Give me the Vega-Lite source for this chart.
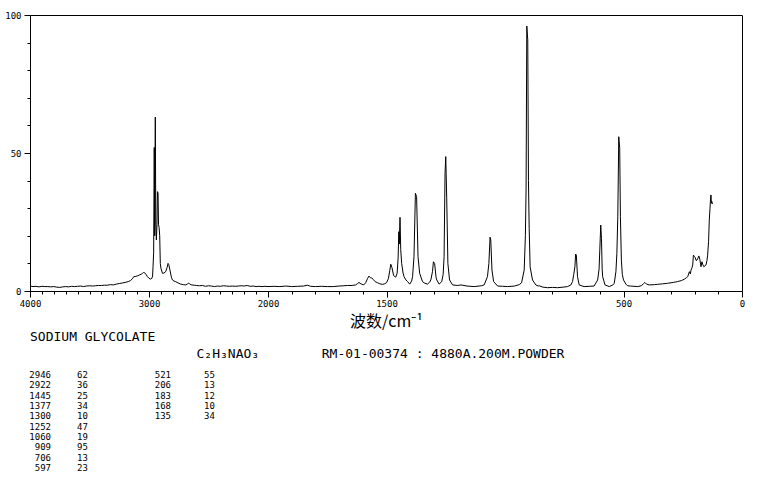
{
  "$schema": "https://vega.github.io/schema/vega-lite/v6.json",
  "autosize": {"type": "pad"},
  "padding": {"left": 4, "top": 10, "right": 0, "bottom": 0},
  "background": "white",
  "spacing": 84,
  "bounds": "flush",
  "datasets": {
    "spectrum": [
      {"wavenumber":4000,"intensity":1.8},{"wavenumber":3975,"intensity":1.6},{"wavenumber":3950,"intensity":1.7},{"wavenumber":3925,"intensity":1.5},{"wavenumber":3900,"intensity":1.7},{"wavenumber":3875,"intensity":1.6},{"wavenumber":3850,"intensity":1.6},{"wavenumber":3825,"intensity":1.5},{"wavenumber":3800,"intensity":1.6},{"wavenumber":3775,"intensity":1.4},{"wavenumber":3750,"intensity":1.3},{"wavenumber":3725,"intensity":1.5},{"wavenumber":3700,"intensity":1.6},{"wavenumber":3675,"intensity":1.5},{"wavenumber":3650,"intensity":1.7},{"wavenumber":3625,"intensity":1.6},{"wavenumber":3600,"intensity":1.7},{"wavenumber":3575,"intensity":1.8},{"wavenumber":3550,"intensity":1.6},{"wavenumber":3525,"intensity":1.8},{"wavenumber":3500,"intensity":1.9},{"wavenumber":3475,"intensity":1.8},{"wavenumber":3450,"intensity":1.9},{"wavenumber":3425,"intensity":2.0},{"wavenumber":3400,"intensity":2.0},{"wavenumber":3375,"intensity":2.1},{"wavenumber":3350,"intensity":2.1},{"wavenumber":3325,"intensity":2.3},{"wavenumber":3300,"intensity":2.2},{"wavenumber":3275,"intensity":2.5},{"wavenumber":3250,"intensity":2.7},{"wavenumber":3225,"intensity":2.9},{"wavenumber":3200,"intensity":3.1},{"wavenumber":3175,"intensity":3.4},{"wavenumber":3155,"intensity":3.8},{"wavenumber":3140,"intensity":4.4},{"wavenumber":3128,"intensity":5.2},{"wavenumber":3110,"intensity":5.3},{"wavenumber":3097,"intensity":5.5},{"wavenumber":3080,"intensity":5.8},{"wavenumber":3065,"intensity":6.1},{"wavenumber":3055,"intensity":6.4},{"wavenumber":3045,"intensity":6.7},{"wavenumber":3036,"intensity":6.6},{"wavenumber":3025,"intensity":6.0},{"wavenumber":3013,"intensity":5.2},{"wavenumber":3000,"intensity":4.6},{"wavenumber":2986,"intensity":4.3},{"wavenumber":2976,"intensity":4.6},{"wavenumber":2970,"intensity":5.4},{"wavenumber":2966,"intensity":8.8},{"wavenumber":2961,"intensity":13.8},{"wavenumber":2956,"intensity":52},{"wavenumber":2952,"intensity":20},{"wavenumber":2947,"intensity":63},{"wavenumber":2943,"intensity":25},{"wavenumber":2938,"intensity":18.5},{"wavenumber":2933,"intensity":24},{"wavenumber":2929,"intensity":36},{"wavenumber":2924,"intensity":35.5},{"wavenumber":2920,"intensity":24},{"wavenumber":2915,"intensity":23},{"wavenumber":2910,"intensity":20},{"wavenumber":2905,"intensity":10},{"wavenumber":2900,"intensity":8.3},{"wavenumber":2887,"intensity":6.4},{"wavenumber":2875,"intensity":6.5},{"wavenumber":2860,"intensity":7.0},{"wavenumber":2848,"intensity":8.5},{"wavenumber":2840,"intensity":10},{"wavenumber":2834,"intensity":9.6},{"wavenumber":2824,"intensity":7.6},{"wavenumber":2812,"intensity":5.0},{"wavenumber":2803,"intensity":4.0},{"wavenumber":2790,"intensity":3.6},{"wavenumber":2776,"intensity":3.4},{"wavenumber":2755,"intensity":2.9},{"wavenumber":2734,"intensity":2.5},{"wavenumber":2712,"intensity":2.3},{"wavenumber":2692,"intensity":2.2},{"wavenumber":2675,"intensity":2.6},{"wavenumber":2666,"intensity":2.9},{"wavenumber":2655,"intensity":2.4},{"wavenumber":2640,"intensity":2.2},{"wavenumber":2620,"intensity":2.1},{"wavenumber":2600,"intensity":2.0},{"wavenumber":2575,"intensity":1.9},{"wavenumber":2550,"intensity":2.0},{"wavenumber":2525,"intensity":1.7},{"wavenumber":2500,"intensity":1.9},{"wavenumber":2475,"intensity":1.8},{"wavenumber":2450,"intensity":1.6},{"wavenumber":2425,"intensity":1.8},{"wavenumber":2400,"intensity":1.7},{"wavenumber":2375,"intensity":1.9},{"wavenumber":2350,"intensity":1.8},{"wavenumber":2325,"intensity":1.7},{"wavenumber":2300,"intensity":1.8},{"wavenumber":2275,"intensity":1.7},{"wavenumber":2250,"intensity":1.8},{"wavenumber":2225,"intensity":1.9},{"wavenumber":2200,"intensity":1.8},{"wavenumber":2175,"intensity":2.0},{"wavenumber":2150,"intensity":1.7},{"wavenumber":2125,"intensity":1.8},{"wavenumber":2100,"intensity":1.6},{"wavenumber":2075,"intensity":1.7},{"wavenumber":2050,"intensity":1.6},{"wavenumber":2025,"intensity":1.7},{"wavenumber":2000,"intensity":1.6},
      {"wavenumber":1975,"intensity":1.7},{"wavenumber":1950,"intensity":1.6},{"wavenumber":1925,"intensity":1.8},{"wavenumber":1900,"intensity":1.6},{"wavenumber":1875,"intensity":1.7},{"wavenumber":1850,"intensity":1.8},{"wavenumber":1834,"intensity":2.1},{"wavenumber":1820,"intensity":1.7},{"wavenumber":1800,"intensity":1.6},{"wavenumber":1775,"intensity":1.7},{"wavenumber":1750,"intensity":1.6},{"wavenumber":1725,"intensity":1.6},{"wavenumber":1700,"intensity":1.8},{"wavenumber":1680,"intensity":1.9},{"wavenumber":1665,"intensity":2.0},{"wavenumber":1645,"intensity":2.0},{"wavenumber":1630,"intensity":2.2},{"wavenumber":1622,"intensity":2.7},{"wavenumber":1616,"intensity":3.1},{"wavenumber":1608,"intensity":2.6},{"wavenumber":1596,"intensity":2.2},{"wavenumber":1588,"intensity":3.0},{"wavenumber":1580,"intensity":4.5},{"wavenumber":1574,"intensity":5.4},{"wavenumber":1568,"intensity":4.8},{"wavenumber":1562,"intensity":4.7},{"wavenumber":1556,"intensity":4.2},{"wavenumber":1548,"intensity":3.4},{"wavenumber":1538,"intensity":3.0},{"wavenumber":1528,"intensity":2.6},{"wavenumber":1517,"intensity":2.4},{"wavenumber":1508,"intensity":2.6},{"wavenumber":1500,"intensity":3.0},{"wavenumber":1492,"intensity":4.5},{"wavenumber":1486,"intensity":7.5},{"wavenumber":1482,"intensity":9.7},{"wavenumber":1477,"intensity":8.5},{"wavenumber":1470,"intensity":5.6},{"wavenumber":1461,"intensity":5.0},{"wavenumber":1455,"intensity":6.5},{"wavenumber":1451,"intensity":12},{"wavenumber":1448,"intensity":21.5},{"wavenumber":1446,"intensity":17},{"wavenumber":1443,"intensity":26.7},{"wavenumber":1440,"intensity":15},{"wavenumber":1436,"intensity":10},{"wavenumber":1430,"intensity":6.5},{"wavenumber":1426,"intensity":5.2},{"wavenumber":1418,"intensity":4.0},{"wavenumber":1411,"intensity":3.4},{"wavenumber":1402,"intensity":2.5},{"wavenumber":1394,"intensity":3.6},{"wavenumber":1390,"intensity":5.2},{"wavenumber":1384,"intensity":12.4},{"wavenumber":1378,"intensity":35.4},{"wavenumber":1373,"intensity":34.2},{"wavenumber":1367,"intensity":12.4},{"wavenumber":1360,"intensity":6.4},{"wavenumber":1348,"intensity":3.4},{"wavenumber":1338,"intensity":2.8},{"wavenumber":1327,"intensity":2.5},{"wavenumber":1318,"intensity":3.2},{"wavenumber":1313,"intensity":4.0},{"wavenumber":1306,"intensity":7.0},{"wavenumber":1302,"intensity":10.6},{"wavenumber":1297,"intensity":10.0},{"wavenumber":1291,"intensity":5.0},{"wavenumber":1288,"intensity":4.0},{"wavenumber":1278,"intensity":2.5},{"wavenumber":1267,"intensity":3.4},{"wavenumber":1261,"intensity":6.0},{"wavenumber":1257,"intensity":12.4},{"wavenumber":1253,"intensity":42.6},{"wavenumber":1250,"intensity":48.7},{"wavenumber":1246,"intensity":34},{"wavenumber":1241,"intensity":10},{"wavenumber":1234,"intensity":4.0},{"wavenumber":1221,"intensity":2.2},{"wavenumber":1200,"intensity":2.0},{"wavenumber":1186,"intensity":2.2},{"wavenumber":1160,"intensity":1.8},{"wavenumber":1130,"intensity":1.6},{"wavenumber":1100,"intensity":1.9},{"wavenumber":1088,"intensity":2.2},{"wavenumber":1074,"intensity":5.2},{"wavenumber":1068,"intensity":10},{"wavenumber":1063,"intensity":19.5},{"wavenumber":1060,"intensity":18.5},{"wavenumber":1055,"intensity":7.6},{"wavenumber":1048,"intensity":3.4},{"wavenumber":1031,"intensity":1.8},{"wavenumber":1010,"intensity":1.7},{"wavenumber":989,"intensity":1.6},{"wavenumber":960,"intensity":1.8},{"wavenumber":940,"intensity":2.3},{"wavenumber":930,"intensity":3.0},{"wavenumber":919,"intensity":7.6},{"wavenumber":914,"intensity":20},{"wavenumber":911,"intensity":37},{"wavenumber":908,"intensity":96},{"wavenumber":904,"intensity":91},{"wavenumber":901,"intensity":40},{"wavenumber":898,"intensity":22.7},{"wavenumber":894,"intensity":8.8},{"wavenumber":884,"intensity":4.0},{"wavenumber":870,"intensity":2.2},{"wavenumber":860,"intensity":1.8},{"wavenumber":856,"intensity":1.9},{"wavenumber":840,"intensity":1.4},{"wavenumber":820,"intensity":1.2},{"wavenumber":800,"intensity":1.3},{"wavenumber":778,"intensity":1.2},{"wavenumber":755,"intensity":1.4},{"wavenumber":736,"intensity":1.6},{"wavenumber":722,"intensity":2.2},{"wavenumber":715,"intensity":3.4},{"wavenumber":710,"intensity":6.0},{"wavenumber":705,"intensity":8.8},{"wavenumber":702,"intensity":13.4},{"wavenumber":699,"intensity":13.0},{"wavenumber":694,"intensity":5.2},{"wavenumber":687,"intensity":2.2},{"wavenumber":666,"intensity":1.6},{"wavenumber":645,"intensity":1.7},{"wavenumber":624,"intensity":1.8},{"wavenumber":609,"intensity":4.0},{"wavenumber":603,"intensity":8.0},{"wavenumber":600,"intensity":14.9},{"wavenumber":596,"intensity":23.9},{"wavenumber":593,"intensity":19.1},{"wavenumber":590,"intensity":8.0},{"wavenumber":588,"intensity":5.2},{"wavenumber":578,"intensity":2.2},{"wavenumber":560,"intensity":1.6},{"wavenumber":545,"intensity":2.2},{"wavenumber":539,"intensity":2.8},{"wavenumber":532,"intensity":7.0},{"wavenumber":528,"intensity":13.6},{"wavenumber":524,"intensity":26.9},{"wavenumber":520,"intensity":55.9},{"wavenumber":516,"intensity":51.7},{"wavenumber":513,"intensity":26.9},{"wavenumber":509,"intensity":11.2},{"wavenumber":505,"intensity":6.0},{"wavenumber":500,"intensity":4.0},{"wavenumber":490,"intensity":2.5},{"wavenumber":483,"intensity":1.9},{"wavenumber":470,"intensity":1.8},{"wavenumber":440,"intensity":1.6},{"wavenumber":425,"intensity":1.9},{"wavenumber":416,"intensity":2.6},{"wavenumber":410,"intensity":3.1},{"wavenumber":403,"intensity":2.5},{"wavenumber":392,"intensity":2.2},{"wavenumber":370,"intensity":2.3},{"wavenumber":357,"intensity":2.4},{"wavenumber":335,"intensity":2.6},{"wavenumber":314,"intensity":2.8},{"wavenumber":290,"intensity":3.1},{"wavenumber":272,"intensity":3.4},{"wavenumber":255,"intensity":3.8},{"wavenumber":243,"intensity":4.3},{"wavenumber":235,"intensity":4.8},{"wavenumber":229,"intensity":5.2},{"wavenumber":224,"intensity":6.5},{"wavenumber":222,"intensity":7.0},{"wavenumber":218,"intensity":6.2},{"wavenumber":215,"intensity":7.6},{"wavenumber":211,"intensity":8.4},{"wavenumber":208,"intensity":9.4},{"wavenumber":205,"intensity":13.0},{"wavenumber":201,"intensity":12.5},{"wavenumber":198,"intensity":12.2},{"wavenumber":193,"intensity":11.0},{"wavenumber":190,"intensity":11.2},{"wavenumber":185,"intensity":12.0},{"wavenumber":182,"intensity":12.7},{"wavenumber":178,"intensity":11.5},{"wavenumber":173,"intensity":8.8},{"wavenumber":169,"intensity":10.6},{"wavenumber":165,"intensity":9.5},{"wavenumber":161,"intensity":8.8},{"wavenumber":155,"intensity":9.2},{"wavenumber":152,"intensity":9.4},{"wavenumber":148,"intensity":11},{"wavenumber":145,"intensity":13},{"wavenumber":141,"intensity":18},{"wavenumber":138,"intensity":25.7},{"wavenumber":135,"intensity":30},{"wavenumber":133,"intensity":33},{"wavenumber":131,"intensity":34.8},{"wavenumber":129,"intensity":31.8},{"wavenumber":127,"intensity":32.4},{"wavenumber":125,"intensity":31.5}
    ],
    "peaks": [
      {"wavenumber":"2946","intensity":"62","block":0,"rank":0},
      {"wavenumber":"2922","intensity":"36","block":0,"rank":1},
      {"wavenumber":"1445","intensity":"25","block":0,"rank":2},
      {"wavenumber":"1377","intensity":"34","block":0,"rank":3},
      {"wavenumber":"1300","intensity":"10","block":0,"rank":4},
      {"wavenumber":"1252","intensity":"47","block":0,"rank":5},
      {"wavenumber":"1060","intensity":"19","block":0,"rank":6},
      {"wavenumber":"909","intensity":"95","block":0,"rank":7},
      {"wavenumber":"706","intensity":"13","block":0,"rank":8},
      {"wavenumber":"597","intensity":"23","block":0,"rank":9},
      {"wavenumber":"521","intensity":"55","block":1,"rank":0},
      {"wavenumber":"206","intensity":"13","block":1,"rank":1},
      {"wavenumber":"183","intensity":"12","block":1,"rank":2},
      {"wavenumber":"168","intensity":"10","block":1,"rank":3},
      {"wavenumber":"135","intensity":"34","block":1,"rank":4}
    ]
  },
  "vconcat": [
    {
      "width": 712,
      "height": 276,
      "data": {"name": "spectrum"},
      "layer": [
        {
          "mark": {"type": "line", "color": "black", "strokeWidth": 1, "interpolate": "linear"},
          "encoding": {
            "x": {
              "field": "wavenumber", "type": "quantitative",
              "scale": {"domain": [4000, 2000, 0], "range": [0, 238, 712], "nice": false, "zero": false},
              "axis": {
                "orient": "bottom", "values": [4000, 3000, 2000, 1500, 500, 0], "format": "d",
                "tickSize": 6, "labelPadding": 2, "labelFont": "DejaVu Sans Mono", "labelFontSize": 9,
                "labelFlush": false, "labelOverlap": false, "grid": false,
                "title": "波数/cm⁻¹", "titleFont": "Noto Sans CJK SC", "titleFontSize": 16,
                "titleFontWeight": "normal", "titlePadding": 5
              }
            },
            "y": {
              "field": "intensity", "type": "quantitative",
              "scale": {"domain": [0, 100], "nice": false},
              "axis": {
                "orient": "left", "values": [0, 50, 100], "format": "d",
                "tickSize": 6, "labelPadding": 3, "labelFont": "DejaVu Sans Mono", "labelFontSize": 9,
                "grid": false, "title": null
              }
            }
          }
        },
        {
          "mark": {"type": "line", "strokeOpacity": 0},
          "encoding": {
            "x": {
              "field": "wavenumber", "type": "quantitative",
              "axis": {
                "orient": "bottom",
                "values": [3900,3800,3700,3600,3500,3400,3300,3200,3100,2900,2800,2700,2600,2500,2400,2300,2200,2100,1900,1800,1700,1600,1400,1300,1200,1100,1000,900,800,700,600,400,300,200,100],
                "tickSize": 3, "labels": false, "domain": false, "grid": false, "title": null
              }
            },
            "y": {
              "field": "intensity", "type": "quantitative",
              "axis": {
                "orient": "left", "values": [10,20,30,40,60,70,80,90],
                "tickSize": 3, "labels": false, "domain": false, "grid": false, "title": null
              }
            }
          }
        }
      ],
      "resolve": {"axis": {"x": "independent", "y": "independent"}}
    },
    {
      "width": 712,
      "height": 93,
      "view": {"stroke": null},
      "data": {"name": "peaks"},
      "title": {
        "text": [
          "SODIUM GLYCOLATE",
          "\u2800\u00a0\u00a0\u00a0\u00a0\u00a0\u00a0\u00a0\u00a0\u00a0\u00a0\u00a0\u00a0\u00a0\u00a0\u00a0\u00a0\u00a0\u00a0\u00a0\u00a0C₂H₃NAO₃\u00a0\u00a0\u00a0\u00a0\u00a0\u00a0\u00a0\u00a0RM-01-00374 : 4880A.200M.POWDER"
        ],
        "anchor": "start", "orient": "top", "frame": "group",
        "font": "DejaVu Sans Mono", "fontSize": 13, "fontWeight": "normal", "color": "black",
        "lineHeight": 17, "offset": 10
      },
      "layer": [
        {
          "mark": {"type": "text", "align": "right", "baseline": "middle", "font": "DejaVu Sans Mono", "fontSize": 9, "color": "black"},
          "encoding": {
            "x": {"field": "block", "type": "quantitative", "scale": {"domain": [0, 1], "range": [21, 141]}, "axis": null},
            "y": {"field": "rank", "type": "quantitative", "scale": {"domain": [0, 9], "range": [0, 93]}, "axis": null},
            "text": {"field": "wavenumber", "type": "nominal"}
          }
        },
        {
          "mark": {"type": "text", "align": "left", "baseline": "middle", "font": "DejaVu Sans Mono", "fontSize": 9, "color": "black"},
          "encoding": {
            "x": {"field": "block", "type": "quantitative", "scale": {"domain": [0, 1], "range": [47, 174]}, "axis": null},
            "y": {"field": "rank", "type": "quantitative", "scale": {"domain": [0, 9], "range": [0, 93]}, "axis": null},
            "text": {"field": "intensity", "type": "nominal"}
          }
        }
      ],
      "resolve": {"scale": {"x": "independent"}}
    }
  ],
  "config": {
    "view": {"stroke": "black", "strokeWidth": 1},
    "axis": {"domainColor": "black", "tickColor": "black", "labelColor": "black", "titleColor": "black", "domainWidth": 1, "tickWidth": 1}
  }
}
